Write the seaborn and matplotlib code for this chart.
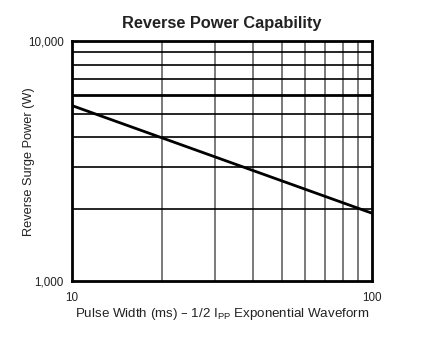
import matplotlib
matplotlib.use("Agg")
import matplotlib.pyplot as plt
import seaborn as sns
import pandas as pd
from matplotlib.ticker import FixedLocator, NullLocator

pulse_width_ms = [10, 100]
reverse_power_w = [5400, 1920]
x_grid = [20, 30, 40, 50, 60, 70, 80, 90]
y_grid = [2000, 3000, 4000, 5000, 6000, 7000, 8000, 9000]
x_ticklabels = ["10", "100"]
y_ticklabels = ["1,000", "10,000"]

sns.set_theme(style="white")
plt.rcParams['font.family'] = ['Liberation Sans', 'DejaVu Sans']

fig = plt.figure(figsize=(4.26, 3.37), dpi=100)
ax = fig.add_axes([0.169, 0.166, 0.704, 0.711])

df = pd.DataFrame({"x": pulse_width_ms, "y": reverse_power_w})
ax.set_xscale("log")
ax.set_yscale("log")
ax.set_xlim(10, 100)
ax.set_ylim(1000, 10000)

for xv in x_grid:
    ax.axvline(xv, color="#707070", lw=1.3, zorder=1)
for yv in y_grid:
    ax.axhline(yv, color="black", lw=2.0 if yv == 6000 else 1.2, zorder=1)

sns.lineplot(data=df, x="x", y="y", ax=ax, color="black", lw=2.0, zorder=3)

ax.xaxis.set_major_locator(FixedLocator([10, 100]))
ax.yaxis.set_major_locator(FixedLocator([1000, 10000]))
ax.xaxis.set_minor_locator(NullLocator())
ax.yaxis.set_minor_locator(NullLocator())
ax.set_xticklabels(x_ticklabels)
ax.set_yticklabels(y_ticklabels)
ax.tick_params(axis="both", length=0, labelsize=8.4, colors="#222222")
ax.tick_params(axis="x", pad=8)
ax.tick_params(axis="y", pad=6)

for s in ax.spines.values():
    s.set_color("black")
    s.set_linewidth(2.0)

ax.set_xlabel("Pulse Width (ms) \u2013 1/2 I$_{\\mathregular{PP}}$ Exponential Waveform",
              fontsize=9.6, color="#222222", labelpad=1)
ax.set_ylabel("Reverse Surge Power (W)", fontsize=9.2, color="#222222")
ax.yaxis.set_label_coords(-0.124, 0.5)
ax.set_title("Reverse Power Capability", fontsize=11.8, fontweight="bold", color="#222222", pad=10)

fig.savefig("out.png", dpi=100)
